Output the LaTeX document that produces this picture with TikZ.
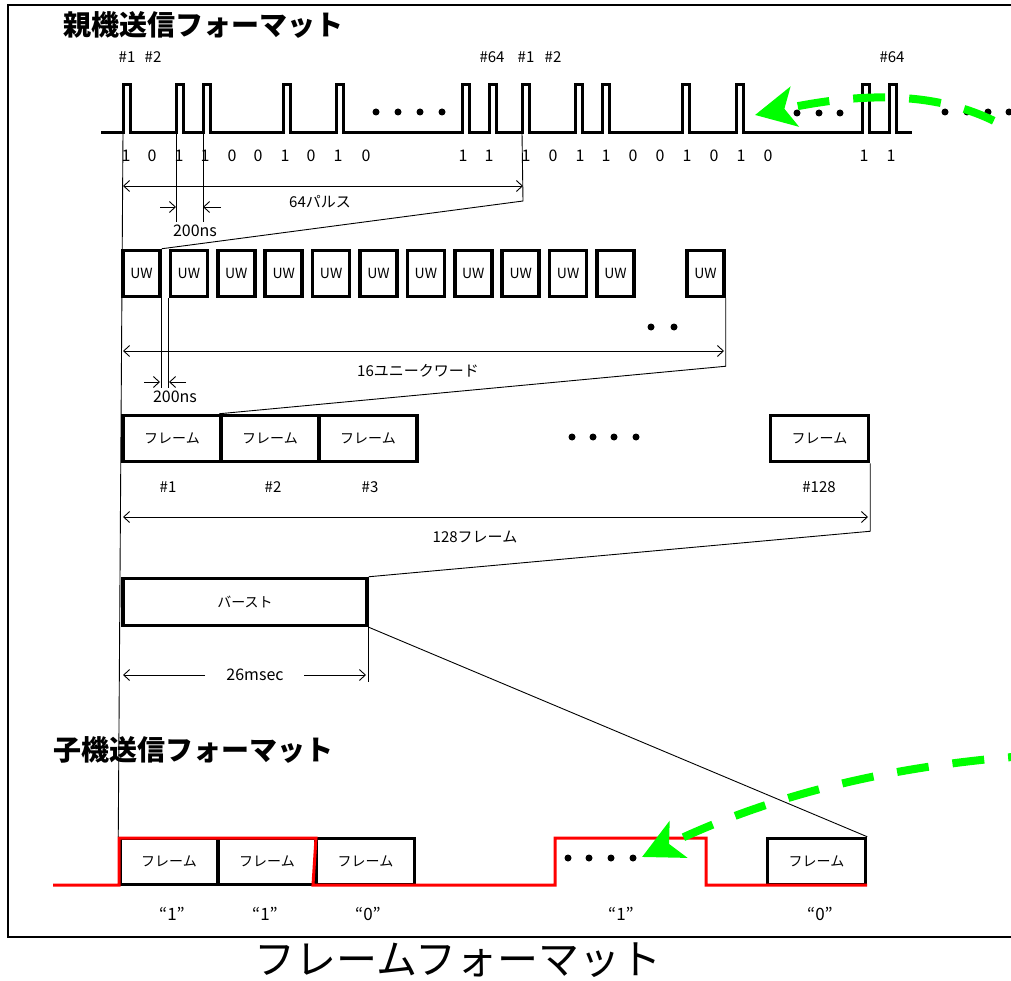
\documentclass[tikz,border=0pt]{standalone}
\usepackage{fontspec}
\setmainfont{Noto Sans CJK JP}
\usetikzlibrary{arrows.meta}
\newcommand\fsz[1]{\fontsize{#1}{#1}\selectfont}
\definecolor{sigred}{RGB}{255,0,0}
\definecolor{arrowgreen}{RGB}{0,255,0}
\begin{document}
\begin{tikzpicture}[x=1pt,y=-1pt,
  box/.style={draw, line width=3.5pt, minimum height=46pt, inner sep=0pt, font=\fsz{14}},
  uwbox/.style={box, minimum width=37pt},
  frbox/.style={box, minimum width=98pt},
  fine/.style={line width=0.9pt},
  barb/.tip={Straight Barb[length=6pt,width=11pt]},
  dim/.style={fine, barb-barb},
  lbl/.style={inner sep=0pt, font=\fsz{15}},
  dotn/.style={circle, fill, inner sep=0pt, minimum size=7pt},
  sig/.style={draw=sigred, line width=3pt},
  garrow/.style={draw=arrowgreen, line width=8pt, dash pattern=on 32pt off 24pt, -{Stealth[length=40pt,width=40pt,inset=10pt]}},
]
\useasboundingbox (0,0) rectangle (1011,981);
\fill[white] (0,0) rectangle (1011,981);
% frame
\draw[line width=2.5pt] (1011,5) -- (8,5) -- (8,937) -- (1011,937);
% titles
\node[anchor=west, inner sep=0, font=\fsz{28}\bfseries] (t1) at (63,25) {親機送信フォーマット};
\node[anchor=west, inner sep=0, font=\fsz{28}\bfseries] (t2) at (53,750) {子機送信フォーマット};
\node[inner sep=0, font=\fsz{41}] (t3) at (458,960) {フレームフォーマット};
% pulse train
\draw[line width=3pt] (101,133) foreach \x in {123,176,203,283,336,462,489,522,575,602,682,736,862,889} { -- (\x,133) -- (\x,85) -- (\x+7,85) -- (\x+7,133) } -- (912,133);
\coordinate (pA1) at (123,133);
\coordinate (pA2) at (176,133);
\coordinate (pA3) at (203,133);
\coordinate (pB1) at (522,133);
% pulse numbers
\foreach \x/\t [count=\i] in {127/\#1,153/\#2,492/\#64,526/\#1,553/\#2,892/\#64}
  \node[lbl, font=\fsz{15}] (pn\i) at (\x,57) {\t};
% bit labels
\foreach \x/\t [count=\i] in {126/1,152/0,179/1,205/1,232/0,258/0,285/1,311/0,338/1,366/0,463/1,489/1,526/1,553/0,580/1,606/1,633/0,660/0,687/1,714/0,741/1,768/0,864/1,891/1}
  \node[lbl, font=\fsz{16}] (b\i) at (\x,156) {\t};
% dots on pulse train
\foreach \x [count=\i] in {376,398,420,442} \node[dotn] (da\i) at (\x,112) {};
\foreach \x [count=\i] in {797,819,840} \node[dotn] (db\i) at (\x,113) {};
\foreach \x [count=\i] in {945,967,988,1009} \node[dotn] (dc\i) at (\x,112) {};
% UW row
\foreach \i in {1,...,11} \node[uwbox] (uw\i) at ({141.5+47.4*(\i-1)},273.5) {UW};
\node[uwbox] (uw12) at (705.5,273.5) {UW};
\node[dotn] (dd1) at (651,327) {};
\node[dotn] (dd2) at (674,327) {};
% frames row
\node[frbox] (fr1) at (172,438.5) {フレーム};
\node[frbox] (fr2) at (270,438.5) {フレーム};
\node[frbox] (fr3) at (368,438.5) {フレーム};
\node[frbox] (fr128) at (819.5,438.5) {フレーム};
\foreach \x [count=\i] in {572,593,614,636} \node[dotn] (de\i) at (\x,437) {};
\node[lbl] (n1) at (168,487) {\#1};
\node[lbl] (n2) at (273,487) {\#2};
\node[lbl] (n3) at (370,487) {\#3};
\node[lbl] (n128) at (819,487) {\#128};
% burst
\node[box, minimum width=244pt, minimum height=47pt] (burst) at (245,602) {バースト};
% bottom frames
\node[frbox] (bf1) at (169,861.5) {フレーム};
\node[frbox] (bf2) at (267,861.5) {フレーム};
\node[frbox] (bf3) at (365.5,861.5) {フレーム};
\node[frbox] (bf5) at (816.5,861.5) {フレーム};
\foreach \x [count=\i] in {568,589,611,633} \node[dotn] (df\i) at (\x,858) {};
\draw[sig] (53,885) -- (119,885) -- (119,838) -- (316,838) -- (313,885) -- (555,885) -- (555,838) -- (706,838) -- (706,885) -- (767,885) -- (867,885);
\foreach \x/\t [count=\i] in {172/“1”,265/“1”,368/“0”,621/“1”,820/“0”}
  \node[lbl, font=\fsz{17}] (q\i) at (\x,914) {\t};
% long left guide line
\draw[fine] (pA1) -- (bf1.north west);
% 64 pulses
\draw[fine] (pB1) -- (523,201) -- (uw1.north east);
\draw[dim] (123,186) -- (523,186);
\node[lbl] (l64) at (320,202) {64パルス};
% 200ns (top)
\draw[fine] (pA2) -- (176,222);
\draw[fine] (pA3) -- (203,222);
\draw[fine,-barb] (160,207) -- (176,207);
\draw[fine,-barb] (221,207) -- (203,207);
\node[lbl, font=\fsz{16}] (l200a) at (195,231) {200ns};
% 16 unique words
\draw[fine] (uw12.south east) -- ++(0,68) -- (fr2.north west);
\draw[dim] (123,351) -- (724,351);
\node[lbl] (l16) at (418,371) {16ユニークワード};
% 200ns (UW)
\draw[fine] (uw1.south east) -- ++(0,90);
\draw[fine] (uw2.south west) -- ++(0,90);
\draw[fine,-barb] (144,382) -- (160,382);
\draw[fine,-barb] (186,382) -- (169,382);
\node[lbl, font=\fsz{16}] (l200b) at (175,397) {200ns};
% 128 frames
\draw[fine] (fr128.south east) -- ++(0,68) -- (burst.north east);
\draw[dim] (123,517) -- (868,517);
\node[lbl] (l128) at (475,537) {128フレーム};
% 26 msec
\draw[fine] (burst.south east) -- ++(0,55);
\draw[fine,-barb] (205,675) -- (123,675);
\draw[fine,-barb] (304,675) -- (366,675);
\node[lbl, font=\fsz{16}] (l26) at (255,675) {26msec};
\draw[fine] (burst.south east) -- (bf5.north east);
% green arrows
\draw[garrow] (1040,152) .. controls (960,80) and (850,95) .. (755,115);
\draw[garrow] (1040,755) .. controls (880,765) and (760,800) .. (642,857);
\end{tikzpicture}
\end{document}
